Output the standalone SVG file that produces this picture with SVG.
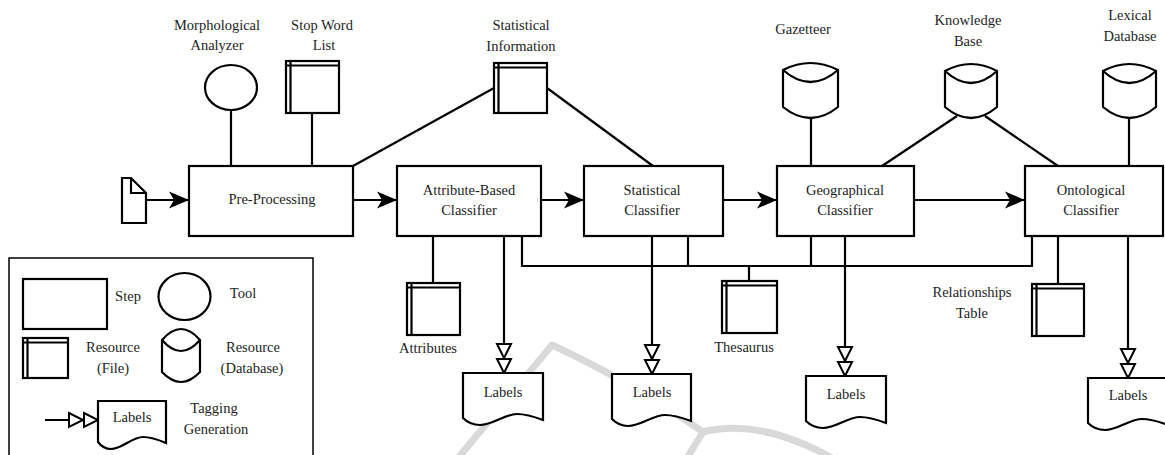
<svg xmlns="http://www.w3.org/2000/svg" width="1165" height="455" viewBox="0 0 1165 455">
<style>
.ln{stroke:#000;stroke-width:2.2;fill:none}
.sh{stroke:#000;stroke-width:2.2;fill:#fff}
.wm{stroke:#d9d9d9;stroke-width:7;fill:none;stroke-linecap:round;stroke-linejoin:round}
text{font-family:"Liberation Serif","Times New Roman",serif;font-size:14.5px;fill:#1e1e1e;text-anchor:middle}
</style>
<defs>
<marker id="arr" markerUnits="userSpaceOnUse" viewBox="-1 -10 22 20" refX="20" refY="0" markerWidth="22" markerHeight="20" orient="auto">
<path d="M20,0 L0,-8.5 L5,0 L0,8.5 Z" fill="#000"/>
</marker>
<marker id="dbl" markerUnits="userSpaceOnUse" viewBox="-2 -9 32 18" refX="29" refY="0" markerWidth="32" markerHeight="18" orient="auto">
<path d="M0,-7 L14,0 L0,7 Z M15,-7 L29,0 L15,7 Z" fill="#fff" stroke="#000" stroke-width="2"/>
</marker>
</defs>
<rect width="1165" height="455" fill="#fff"/>
<g id="watermark">
<path class="wm" d="M458,458 L552,345 Q632,382 703,432 Q760,418 832,458"/>
<path class="wm" d="M703,432 L687,458"/>
</g>
<g id="connectors">
<line class="ln" x1="147" y1="200" x2="189" y2="200" marker-end="url(#arr)"/>
<line class="ln" x1="353" y1="200" x2="397" y2="200" marker-end="url(#arr)"/>
<line class="ln" x1="541" y1="200" x2="584" y2="200" marker-end="url(#arr)"/>
<line class="ln" x1="723" y1="200" x2="777" y2="200" marker-end="url(#arr)"/>
<line class="ln" x1="914" y1="200" x2="1025" y2="200" marker-end="url(#arr)"/>
<line class="ln" x1="231" y1="110" x2="231" y2="166"/>
<line class="ln" x1="312" y1="113" x2="312" y2="166"/>
<line class="ln" x1="353" y1="166" x2="494" y2="88"/>
<line class="ln" x1="547" y1="88" x2="653" y2="166"/>
<line class="ln" x1="811" y1="118" x2="811" y2="166"/>
<line class="ln" x1="957" y1="116" x2="882" y2="166"/>
<line class="ln" x1="985" y1="116" x2="1058" y2="166"/>
<line class="ln" x1="1129" y1="118" x2="1129" y2="166"/>
<line class="ln" x1="433" y1="236" x2="433" y2="283"/>
<path class="ln" d="M522,236 V266 H1032 V236"/>
<line class="ln" x1="688" y1="236" x2="688" y2="266"/>
<line class="ln" x1="811" y1="236" x2="811" y2="266"/>
<line class="ln" x1="749" y1="266" x2="749" y2="281"/>
<line class="ln" x1="1058" y1="236" x2="1058" y2="284"/>
<line class="ln" x1="504" y1="236" x2="504" y2="373" marker-end="url(#dbl)"/>
<line class="ln" x1="652" y1="236" x2="652" y2="374" marker-end="url(#dbl)"/>
<line class="ln" x1="845" y1="236" x2="845" y2="376" marker-end="url(#dbl)"/>
<line class="ln" x1="1128" y1="236" x2="1128" y2="378" marker-end="url(#dbl)"/>
</g>
<g id="input-doc">
<path class="sh" d="M122,178 H131 L146,193 V223 H122 Z"/>
<path class="ln" d="M131,178 V193 H146"/>
</g>
<g id="morphological-analyzer">
<ellipse class="sh" cx="231" cy="87.5" rx="26" ry="22.5"/>
<text x="217" y="30">Morphological</text>
<text x="217" y="50">Analyzer</text>
</g>
<g id="stop-word-list">
<rect class="sh" x="286" y="61" width="53" height="52"/>
<path class="ln" d="M286,65.5 H339 M290.5,61 V113"/>
<text x="322" y="30">Stop Word</text>
<text x="324" y="50">List</text>
</g>
<g id="statistical-information">
<rect class="sh" x="494" y="63" width="53" height="50"/>
<path class="ln" d="M494,67.5 H547 M498.5,63 V113"/>
<text x="521" y="30">Statistical</text>
<text x="521" y="51">Information</text>
</g>
<g id="gazetteer">
<path class="sh" d="M783,70 Q810.5,56 838,70 V107 Q810.5,129 783,107 Z"/>
<path class="ln" d="M783,70 Q810.5,94 838,70"/>
<text x="803" y="34">Gazetteer</text>
</g>
<g id="knowledge-base">
<path class="sh" d="M945,71 Q971,57 997,71 V107 Q971,129 945,107 Z"/>
<path class="ln" d="M945,71 Q971,95 997,71"/>
<text x="968" y="25">Knowledge</text>
<text x="968" y="46">Base</text>
</g>
<g id="lexical-database">
<path class="sh" d="M1103,71 Q1129.5,57 1156,71 V107 Q1129.5,129 1103,107 Z"/>
<path class="ln" d="M1103,71 Q1129.5,95 1156,71"/>
<text x="1130" y="20">Lexical</text>
<text x="1130" y="41">Database</text>
</g>
<g id="pre-processing">
<rect class="sh" x="189" y="166" width="164" height="70"/>
<text x="272" y="204">Pre-Processing</text>
</g>
<g id="attribute-based-classifier">
<rect class="sh" x="397" y="166" width="144" height="70"/>
<text x="469" y="195">Attribute-Based</text>
<text x="469" y="215">Classifier</text>
</g>
<g id="statistical-classifier">
<rect class="sh" x="584" y="166" width="139" height="70"/>
<text x="652" y="195">Statistical</text>
<text x="652" y="215">Classifier</text>
</g>
<g id="geographical-classifier">
<rect class="sh" x="777" y="166" width="137" height="70"/>
<text x="845" y="195">Geographical</text>
<text x="845" y="215">Classifier</text>
</g>
<g id="ontological-classifier">
<rect class="sh" x="1025" y="166" width="138" height="70"/>
<text x="1091" y="195">Ontological</text>
<text x="1091" y="215">Classifier</text>
</g>
<g id="attributes">
<rect class="sh" x="407" y="283" width="53" height="52"/>
<path class="ln" d="M407,287.5 H460 M411.5,283 V335"/>
<text x="428" y="353">Attributes</text>
</g>
<g id="thesaurus">
<rect class="sh" x="722" y="281" width="55" height="52"/>
<path class="ln" d="M722,285.5 H777 M726.5,281 V333"/>
<text x="744" y="352">Thesaurus</text>
</g>
<g id="relationships-table">
<rect class="sh" x="1032" y="284" width="52" height="52"/>
<path class="ln" d="M1032,288.5 H1084 M1036.5,284 V336"/>
<text x="972" y="297">Relationships</text>
<text x="972" y="318">Table</text>
</g>
<g id="labels-1">
<path class="sh" d="M463,373 H543 V420 C535,417 527,414 517,414 C505,414 493,425 480,425 C473,425 467,422 463,418 Z"/>
<text x="503" y="397">Labels</text>
</g>
<g id="labels-2">
<path class="sh" d="M612,374 H691 V421 C683,418 675,415 665,415 C653,415 641,426 628,426 C621,426 616,423 612,419 Z"/>
<text x="652" y="397">Labels</text>
</g>
<g id="labels-3">
<path class="sh" d="M806,376 H886 V423 C878,420 870,417 860,417 C848,417 836,428 823,428 C816,428 810,425 806,421 Z"/>
<text x="846" y="399">Labels</text>
</g>
<g id="labels-4">
<path class="sh" d="M1088,378 H1168 V425 C1160,422 1152,419 1142,419 C1130,419 1118,430 1105,430 C1098,430 1092,427 1088,423 Z"/>
<text x="1128" y="400">Labels</text>
</g>
<g id="legend">
<rect x="9" y="258" width="304" height="220" fill="none" stroke="#000" stroke-width="1.5"/>
<rect class="sh" x="23" y="279" width="84" height="50"/>
<text x="128" y="301">Step</text>
<ellipse class="sh" cx="184.5" cy="296.5" rx="26" ry="23.5"/>
<text x="243" y="298">Tool</text>
<rect class="sh" x="23" y="338" width="45" height="40"/>
<path class="ln" d="M23,342.5 H68 M27.5,338 V378"/>
<text x="113" y="352">Resource</text>
<text x="113" y="373">(File)</text>
<path class="sh" d="M162,340 Q181,318 200,340 V372 Q181,392 162,372 Z"/>
<path class="ln" d="M162,340 Q181,362 200,340"/>
<text x="253" y="352">Resource</text>
<text x="252" y="373">(Database)</text>
<line class="ln" x1="45" y1="420" x2="98" y2="420" marker-end="url(#dbl)"/>
<path class="sh" d="M98,401 H166 V443 C159,440 152,437 143,437 C132,437 122,449 111,449 C105,449 101,446 98,442 Z"/>
<text x="132" y="422">Labels</text>
<text x="214" y="413">Tagging</text>
<text x="216" y="434">Generation</text>
</g>
</svg>
